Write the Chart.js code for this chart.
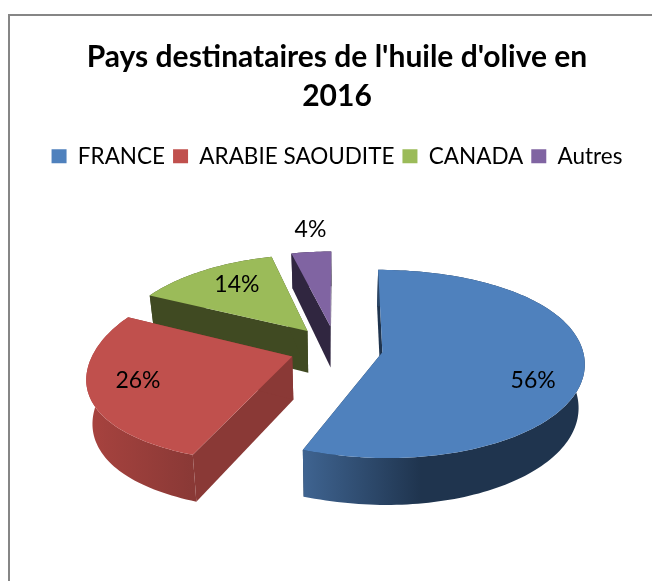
<!DOCTYPE html>
<html>
<head>
<meta charset="utf-8">
<style>
  html, body { margin: 0; padding: 0; background: #fff; overflow: hidden; }
  #box { width: 652px; height: 581px; overflow: hidden; }
</style>
<script src="https://cdn.jsdelivr.net/npm/chart.js@4/dist/chart.umd.min.js"></script>
</head>
<body>
<div id="box"><canvas id="pie" width="674" height="581"></canvas></div>
<script>
const titleLines = ["Pays destinataires de l'huile d'olive en", '2016'];
const categories = ['FRANCE', 'ARABIE SAOUDITE', 'CANADA', 'Autres'];
const shares = [56, 26, 14, 4];

const topColors = ['#4f81bd', '#c0504d', '#9bbb59', '#8064a2'];
// side colours, first and last stop of the outer wall, then the flat cut face
const wallFrom = ['#3f6491', '#a8433f', '#404a22', '#302640'];
const wallTo = ['#1f344e', '#8a3936', '#404a22', '#302640'];
const cutColors = ['#1f344e', '#8a3936', '#404a22', '#302640'];

// how far each label sits along the slice, and a small nudge
const labelReach = [0.74, 0.77, 0.74, 1.38];
const labelNudgeX = [2, 0, 8, 5];
const labelNudgeY = [15, -4, 0, 0];

const radius = 150;
const explode = 0.235; // as a share of the radius

// projection of the pie plane on the page
const view = { cx: 336, cy: 348, ax: 197, axRight: 200, ay: 96.6, kLeft: 0.19, kRight: 0.1, kFar: 0.19, kNear: 0.08, depth: 43, shrink: 0.975 };

function project(x, y, low) {
  const sx = 1 / (1 + (x > 0 ? view.kRight : view.kLeft) * y);
  const sy = 1 / (1 + (y > 0 ? view.kFar : view.kNear) * y);
  const px = (x > 0 ? view.axRight : view.ax) * x * sx * (low ? view.shrink : 1);
  const py = -view.ay * y * sy + (low ? view.depth * sy : 0);
  return [view.cx + px, view.cy + py];
}

function tracePath(ctx, pts) {
  ctx.beginPath();
  pts.forEach((p, i) => (i ? ctx.lineTo(p[0], p[1]) : ctx.moveTo(p[0], p[1])));
  ctx.closePath();
}

function sliceShape(arc) {
  const mid = (arc.startAngle + arc.endAngle) / 2;
  const shift = arc.options.offset / 4 / arc.outerRadius;
  const ox = Math.cos(mid) * shift;
  const oy = -Math.sin(mid) * shift;
  const steps = Math.max(6, Math.ceil((arc.endAngle - arc.startAngle) * 40));
  const rim = [];
  for (let i = 0; i <= steps; i++) {
    const a = arc.startAngle + (arc.endAngle - arc.startAngle) * i / steps;
    rim.push([ox + Math.cos(a), oy - Math.sin(a)]);
  }
  return { ox, oy, mid, rim };
}

const pie3d = {
  id: 'pie3d',
  beforeDraw(chart) {
    const ctx = chart.ctx;
    ctx.save();
    ctx.strokeStyle = '#868686';
    ctx.lineWidth = 2;
    ctx.beginPath();
    ctx.moveTo(9, 581);
    ctx.lineTo(9, 15);
    ctx.lineTo(674, 15);
    ctx.stroke();
    ctx.restore();
  },
  beforeDatasetsDraw(chart) {
    const ctx = chart.ctx;
    const arcs = chart.getDatasetMeta(0).data;
    ctx.save();
    // far slices first
    [3, 2, 1, 0].forEach((i) => {
      const { ox, oy, rim } = sliceShape(arcs[i]);
      const apex = [ox, oy];
      const first = rim[0];
      const last = rim[rim.length - 1];

      [first, last].forEach((edge) => {
        tracePath(ctx, [project(apex[0], apex[1]), project(edge[0], edge[1]),
          project(edge[0], edge[1], true), project(apex[0], apex[1], true)]);
        ctx.fillStyle = cutColors[i];
        ctx.fill();
      });

      const xs = rim.map((p) => project(p[0], p[1])[0]);
      const grad = ctx.createLinearGradient(Math.min(...xs), 0, Math.max(...xs), 0);
      if (i === 0) {
        grad.addColorStop(0, wallFrom[i]);
        grad.addColorStop(0.42, wallTo[i]);
        grad.addColorStop(1, wallTo[i]);
      } else {
        grad.addColorStop(0, wallFrom[i]);
        grad.addColorStop(1, wallTo[i]);
      }
      const upper = rim.map((p) => project(p[0], p[1]));
      const lower = rim.map((p) => project(p[0], p[1], true)).reverse();
      tracePath(ctx, upper.concat(lower));
      ctx.fillStyle = grad;
      ctx.fill();

      tracePath(ctx, [project(apex[0], apex[1])].concat(upper));
      ctx.fillStyle = topColors[i];
      ctx.fill();
    });

    ctx.font = '23px Lato';
    ctx.fillStyle = '#000';
    ctx.textAlign = 'center';
    ctx.textBaseline = 'middle';
    arcs.forEach((arc, i) => {
      const { ox, oy, mid } = sliceShape(arc);
      const p = project(ox + Math.cos(mid) * labelReach[i], oy - Math.sin(mid) * labelReach[i]);
      ctx.fillText(shares[i] + '%', p[0] + labelNudgeX[i], p[1] + labelNudgeY[i]);
    });
    ctx.restore();
    return false;
  },
};

new Chart(document.getElementById('pie'), {
  type: 'pie',
  data: {
    labels: categories,
    datasets: [
      {
        data: shares,
        backgroundColor: topColors,
        borderWidth: 0,
        offset: explode * radius * 4,
      },
    ],
  },
  options: {
    responsive: false,
    animation: false,
    radius: radius,
    plugins: {
      title: {
        display: true,
        text: titleLines,
        color: '#000',
        font: { family: 'Lato', size: 30, weight: 'bold', lineHeight: 1.3 },
        padding: { top: 38, bottom: 21 },
      },
      legend: {
        position: 'top',
        labels: {
          color: '#000',
          font: { family: 'Lato', size: 22.5 },
          boxWidth: 15,
          boxHeight: 14,
          padding: 8,
        },
      },
      tooltip: { enabled: false },
    },
  },
  plugins: [pie3d],
});
</script>
</body>
</html>
